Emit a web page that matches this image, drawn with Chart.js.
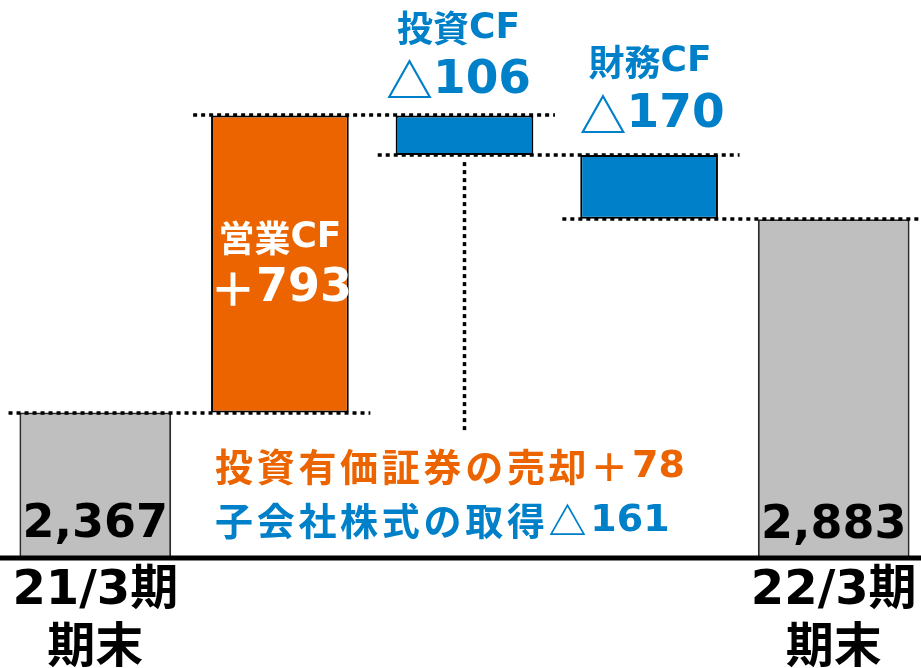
<!DOCTYPE html>
<html><head><meta charset="utf-8">
<script src="https://cdn.jsdelivr.net/npm/chart.js@4/dist/chart.umd.min.js"></script>
<style>html,body{margin:0;padding:0;background:#fff;overflow:hidden;width:921px;height:668px}#wrap{width:926px;height:668px;position:relative}</style>
</head><body><div id="wrap"><canvas id="c" width="926" height="668"></canvas></div>
<script>
// ---- data ----
const categories = ["21/3期末", "営業CF", "投資CF", "財務CF", "22/3期末"];
const tickLabels = [["21/3期", "期末"], "", "", "", ["22/3期", "期末"]];
const openingBalance = 2367;
const flowValues = [793, -106, -170];
const closingBalance = 2883;
const flowTitles = ["営業CF", "投資CF", "財務CF"];
const flowValueLabels = ["＋793", "△106", "△170"];
const balanceLabels = ["2,367", "2,883"];
const noteLines = ["投資有価証券の売却＋78", "子会社株式の取得△161"];

// ---- derived ----
const levels = [openingBalance];
flowValues.forEach(v => levels.push(levels[levels.length - 1] + v));
const totalsData = [openingBalance, null, null, null, closingBalance];
const flowData = [null].concat(flowValues.map((v, i) => [levels[i], levels[i + 1]])).concat([null]);

const ORANGE = '#EB6400', BLUE = '#0080C8', GRAY = '#BFBFBF';
const LATIN = "'DejaVu Sans'", CJK = "'Noto Sans CJK JP'";

function runs(text) {
  const out = [];
  for (const ch of text) {
    const latin = ch.charCodeAt(0) < 128;
    if (out.length && out[out.length - 1].latin === latin) out[out.length - 1].t += ch;
    else out.push({ t: ch, latin });
  }
  return out;
}
function drawMixed(ctx, text, x, y, size, color, align, baseline, cjkSpacing) {
  const sp = cjkSpacing || 0;
  const rs = runs(text);
  let w = 0;
  rs.forEach(r => {
    ctx.font = `bold ${size}px ${r.latin ? LATIN : CJK}`;
    r.chars = [];
    r.w = 0;
    if (r.latin) { r.w = ctx.measureText(r.t).width; }
    else {
      for (const ch of r.t) { const cw = ctx.measureText(ch).width + sp; r.chars.push({ ch, cw }); r.w += cw; }
    }
    w += r.w;
  });
  let cx = align === 'center' ? x - w / 2 : x;
  ctx.fillStyle = color;
  ctx.textAlign = 'left';
  ctx.textBaseline = baseline || 'middle';
  rs.forEach(r => {
    ctx.font = `bold ${size}px ${r.latin ? LATIN : CJK}`;
    if (r.latin) { ctx.fillText(r.t, cx, y); cx += r.w; }
    else r.chars.forEach(c => { ctx.fillText(c.ch, cx, y); cx += c.cw; });
  });
}

const decor = {
  id: 'decor',
  afterDatasetsDraw(chart) {
    const ctx = chart.ctx, xs = chart.scales.x, ys = chart.scales.y;
    const step = xs.getPixelForValue(1) - xs.getPixelForValue(0);
    ctx.save();
    // connectors
    ctx.strokeStyle = '#000';
    ctx.lineWidth = 3.5;
    ctx.setLineDash([4, 4]);
    for (let i = 0; i < 4; i++) {
      const y = Math.round(ys.getPixelForValue(levels[i]));
      ctx.beginPath();
      ctx.moveTo(xs.getPixelForValue(i) - step * 0.47, y);
      ctx.lineTo(xs.getPixelForValue(i + 1) + step * 0.49, y);
      ctx.stroke();
    }
    // vertical pointer from 投資CF bar
    const vx = xs.getPixelForValue(2);
    ctx.beginPath();
    ctx.moveTo(vx, ys.getPixelForValue(levels[2]) + 7);
    ctx.lineTo(vx, 434);
    ctx.stroke();
    ctx.setLineDash([]);

    // balances
    drawMixed(ctx, balanceLabels[0], xs.getPixelForValue(0), chart.chartArea.bottom - 19, 46, '#000', 'center', 'alphabetic');
    drawMixed(ctx, balanceLabels[1], xs.getPixelForValue(4), chart.chartArea.bottom - 18, 46, '#000', 'center', 'alphabetic');

    // operating CF inside bar
    const oMid = (ys.getPixelForValue(levels[0]) + ys.getPixelForValue(levels[1])) / 2;
    const ox = xs.getPixelForValue(1);
    drawMixed(ctx, flowTitles[0], ox, oMid - 26, 36, '#fff', 'center');
    drawMixed(ctx, flowValueLabels[0], ox + 1, oMid + 25, 46, '#fff', 'center');

    // investing CF above bar
    const t1 = ys.getPixelForValue(levels[1]);
    const x1 = xs.getPixelForValue(2);
    drawMixed(ctx, flowTitles[1], x1 - 6, t1 - 87, 36, BLUE, 'center');
    drawMixed(ctx, flowValueLabels[1], x1 - 6, t1 - 35, 47, BLUE, 'center');

    // financing CF above bar
    const t2 = ys.getPixelForValue(levels[2]);
    const x2 = xs.getPixelForValue(3);
    drawMixed(ctx, flowTitles[2], x2 + 1, t2 - 93, 36, BLUE, 'center');
    drawMixed(ctx, flowValueLabels[2], x2 + 3, t2 - 40, 47, BLUE, 'center');

    // notes
    drawMixed(ctx, noteLines[0], 215, 467, 38, ORANGE, 'left', 'middle', 3.7);
    drawMixed(ctx, noteLines[1], 215, 521, 38, BLUE, 'left', 'middle', 3.7);
    ctx.restore();
  },
  afterDraw(chart) {
    const ctx = chart.ctx;
    ctx.save();
    ctx.fillStyle = '#000';
    ctx.fillRect(0, chart.chartArea.bottom - 0.5, chart.width, 5);
    ctx.restore();
  }
};

new Chart(document.getElementById('c'), {
  type: 'bar',
  data: {
    labels: categories,
    datasets: [
      {
        data: totalsData, backgroundColor: GRAY, borderColor: '#2a2a2a', borderWidth: 2,
        borderSkipped: false, grouped: false, barPercentage: 0.822, categoryPercentage: 1
      },
      {
        data: flowData, backgroundColor: [null, ORANGE, BLUE, BLUE, null], borderColor: '#000', borderWidth: 2,
        borderSkipped: false, grouped: false, barPercentage: 0.746, categoryPercentage: 1
      }
    ]
  },
  options: {
    responsive: false, animation: false,
    layout: { padding: { left: 3, right: 0, top: 0, bottom: 0 } },
    plugins: { legend: { display: false }, tooltip: { enabled: false } },
    scales: {
      x: {
        grid: { display: false, drawTicks: false }, border: { display: false },
        ticks: {
          autoSkip: false, maxRotation: 0, padding: 7, color: '#000',
          font: { size: 48, weight: 'bold', family: "'DejaVu Sans','Noto Sans CJK JP'", lineHeight: 1.2 },
          callback: (v, i) => tickLabels[i]
        },
        afterFit(s) { s.height = 112; }
      },
      y: { display: false, min: 1984, max: 3468 }
    }
  },
  plugins: [decor]
});
</script>
</body></html>
